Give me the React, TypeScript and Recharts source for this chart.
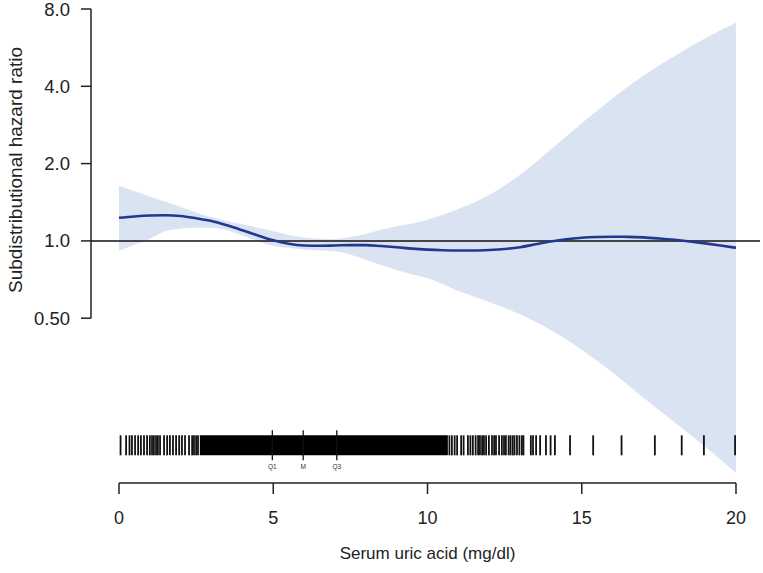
import React from 'react';
import { ComposedChart, Area, Line, XAxis, YAxis, ReferenceLine, ReferenceArea, Label } from 'recharts';

// fitted curve (hazard ratio)
const curveX = [0, 0.5, 1, 1.5, 2, 2.5, 3, 3.5, 4, 4.5, 5, 5.5, 6, 6.5, 7, 7.5, 8, 8.5, 9, 9.5, 10, 10.5, 11, 11.5, 12, 12.5, 13, 13.5, 14, 14.5, 15, 15.5, 16, 16.5, 17, 17.5, 18, 18.5, 19, 19.5, 20];
const curveHR = [1.23, 1.245, 1.255, 1.258, 1.25, 1.225, 1.195, 1.15, 1.1, 1.05, 1.005, 0.975, 0.96, 0.957, 0.96, 0.963, 0.963, 0.955, 0.945, 0.933, 0.925, 0.92, 0.918, 0.918, 0.922, 0.93, 0.945, 0.97, 0.995, 1.015, 1.028, 1.035, 1.038, 1.037, 1.032, 1.022, 1.01, 0.995, 0.978, 0.96, 0.94];

// 95% confidence band
const bandX = [0, 0.5, 1, 1.5, 2, 2.5, 3, 3.5, 4, 4.5, 5, 5.5, 6, 6.5, 7, 7.5, 8, 8.5, 9, 9.5, 10, 11, 12, 13, 14, 15, 16, 17, 18, 19, 20];
const bandUpper = [1.64, 1.56, 1.49, 1.42, 1.355, 1.29, 1.235, 1.195, 1.16, 1.125, 1.09, 1.055, 1.03, 1.02, 1.018, 1.035, 1.065, 1.105, 1.14, 1.17, 1.21, 1.33, 1.51, 1.81, 2.27, 2.87, 3.59, 4.41, 5.24, 6.15, 7.07];
const bandLower = [0.916, 0.965, 1.02, 1.09, 1.115, 1.125, 1.125, 1.1, 1.05, 1.0, 0.955, 0.94, 0.925, 0.918, 0.912, 0.885, 0.845, 0.805, 0.77, 0.74, 0.715, 0.638, 0.578, 0.518, 0.449, 0.377, 0.307, 0.245, 0.197, 0.158, 0.125];

// rug of observations
const rugValues = [
  0.05, 0.23, 0.34, 0.42, 0.52, 0.62, 0.71, 0.81, 0.91, 1.0, 1.07, 1.13, 1.2, 1.26, 1.33, 1.46, 1.56, 1.65, 1.75, 1.85, 1.95, 2.04, 2.14, 2.27, 2.37, 2.43, 2.5, 2.56,
  10.71, 10.79, 10.88, 10.96, 11.09, 11.17, 11.31, 11.39, 11.47, 11.56, 11.64, 11.7, 11.77, 11.83, 11.9, 11.99, 12.09, 12.16, 12.22, 12.32, 12.41, 12.48, 12.54, 12.63, 12.69, 12.76, 12.82, 12.9, 12.98, 13.06, 13.11,
  13.35, 13.42, 13.52, 13.65, 13.84, 13.99, 14.13, 14.62, 15.37, 16.29, 17.37, 18.24, 18.96, 19.97,
];
const rugDense = [2.62, 10.66];
const quartileValues = [4.97, 5.97, 7.06];
const quartileLabels = ['Q1', 'M', 'Q3'];

const xTicks = [0, 5, 10, 15, 20];
const yTickValues = [0.5, 1, 2, 4, 8];
const yTickLabels = ['0.50', '1.0', '2.0', '4.0', '8.0'];

const log2 = Math.log2;
const X_MIN = -0.908;
const X_MAX = 20.778;
const Y_MIN = -3.132;
const Y_MAX = 3;
const RUG_TOP = -2.515;
const RUG_BOTTOM = -2.774;
const Q_TOP = -2.45;
const Q_BOTTOM = -2.839;

const FONT = '"Liberation Sans", Arial, sans-serif';
const INK = '#222';

const curveData = curveX.map((x, i) => ({ x, est: log2(curveHR[i]) }));
const bandData = bandX.map((x, i) => ({ x, band: [log2(bandLower[i]), log2(bandUpper[i])] }));
const yTickPos = yTickValues.map((v) => log2(v));

const App: React.FC = () => {
  return (
    <div style={{ position: 'absolute', left: 0, top: 0, width: 763, height: 573, background: '#fff', fontFamily: FONT }}>
      <ComposedChart width={763} height={573} margin={{ top: 9, right: 3, bottom: 30, left: 10 }}>
        <XAxis
          type="number"
          dataKey="x"
          domain={[X_MIN, X_MAX]}
          allowDataOverflow
          ticks={xTicks}
          interval={0}
          axisLine={false}
          tickSize={11}
          tickMargin={17}
          height={60}
          tick={{ fontSize: 18, fill: INK, fontFamily: FONT }}
          tickLine={{ stroke: INK, strokeWidth: 1.5 }}
        >
          <Label
            content={() => (
              <text x={427.5} y={553} textAnchor="middle" dominantBaseline="central" fontSize={17} fill={INK} fontFamily={FONT}>
                Serum uric acid (mg/dl)
              </text>
            )}
          />
        </XAxis>
        <YAxis
          type="number"
          domain={[Y_MIN, Y_MAX]}
          allowDataOverflow
          ticks={yTickPos}
          interval={0}
          tickFormatter={(v: number) => yTickLabels[yTickPos.findIndex((p) => Math.abs(p - v) < 1e-6)] ?? ''}
          axisLine={false}
          tickSize={10}
          tickMargin={11}
          width={81}
          tick={{ fontSize: 18.5, fill: INK, fontFamily: FONT }}
          tickLine={{ stroke: INK, strokeWidth: 1.5 }}
        >
          <Label
            content={() => (
              <text x={15} y={170} transform="rotate(-90 15 170)" textAnchor="middle" dominantBaseline="central" fontSize={19} fill={INK} fontFamily={FONT}>
                Subdistributional hazard ratio
              </text>
            )}
          />
        </YAxis>

        <Area
          data={bandData}
          dataKey="band"
          type="monotone"
          stroke="none"
          fill="#dae3f2"
          fillOpacity={1}
          isAnimationActive={false}
        />

        {/* axis lines, drawn as segments to match the short R-style axes */}
        <ReferenceLine segment={[{ x: X_MIN, y: log2(0.5) }, { x: X_MIN, y: Y_MAX }]} stroke={INK} strokeWidth={1.5} ifOverflow="visible" />
        <ReferenceLine segment={[{ x: 0, y: Y_MIN }, { x: 20, y: Y_MIN }]} stroke={INK} strokeWidth={1.5} ifOverflow="visible" />
        <ReferenceLine y={0} stroke="#111" strokeWidth={1.5} ifOverflow="visible" />

        {/* rug */}
        <ReferenceArea x1={rugDense[0]} x2={rugDense[1]} y1={RUG_BOTTOM} y2={RUG_TOP} fill="#000" fillOpacity={1} stroke="none" ifOverflow="visible" />
        {rugValues.map((v) => (
          <ReferenceLine key={`rug-${v}`} segment={[{ x: v, y: RUG_BOTTOM }, { x: v, y: RUG_TOP }]} stroke="#111" strokeWidth={1.8} ifOverflow="visible" />
        ))}
        {quartileValues.map((v, i) => (
          <ReferenceLine
            key={`q-${quartileLabels[i]}`}
            segment={[{ x: v, y: Q_BOTTOM }, { x: v, y: Q_TOP }]}
            stroke="#111"
            strokeWidth={1.3}
            ifOverflow="visible"
            label={{ value: quartileLabels[i], position: 'bottom', offset: 4, fontSize: 6.5, fill: '#333', stroke: 'none', fontFamily: FONT }}
          />
        ))}

        <Line
          data={curveData}
          dataKey="est"
          type="monotone"
          stroke="#22388f"
          strokeWidth={2.6}
          dot={false}
          activeDot={false}
          isAnimationActive={false}
        />
      </ComposedChart>
    </div>
  );
};

export default App;
